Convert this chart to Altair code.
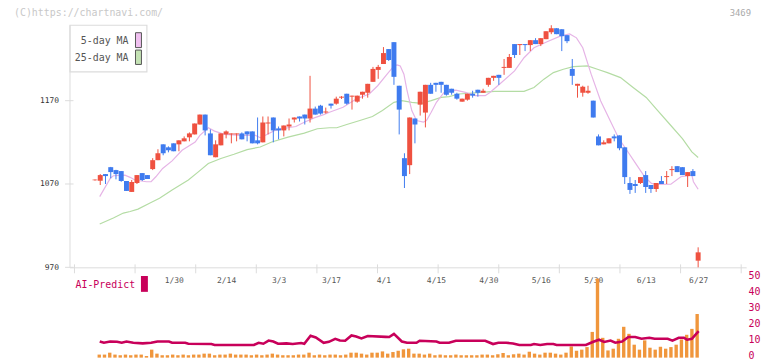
import altair as alt
import pandas as pd

# ---------------- data ----------------
opens = [1074.5, 1073.9, 1081.9, 1090.2, 1086.7, 1085.5, 1073.6, 1060.5, 1071.2, 1083.1,
         1080.7, 1087.9, 1098.6, 1117.6, 1114.0, 1118.8, 1117.6, 1121.2, 1126.0, 1129.5,
         1141.4, 1153.3, 1130.7, 1102.1, 1116.4, 1129.5, 1129.5, 1129.5, 1130.7, 1133.1,
         1133.1, 1122.4, 1120.0, 1142.6, 1149.8, 1136.7, 1134.3, 1139.0, 1147.4, 1151.0,
         1153.3, 1148.6, 1160.5, 1164.0, 1155.7, 1166.4, 1166.4, 1173.6, 1178.3, 1174.8,
         1168.8, 1177.1, 1179.5, 1192.6, 1206.9, 1214.0, 1231.9, 1240.2, 1187.9, 1101.0,
         1092.6, 1148.6, 1165.2, 1155.7, 1189.0, 1191.4, 1192.6, 1189.0, 1184.3, 1178.3,
         1168.8, 1171.2, 1178.3, 1183.1, 1179.5, 1189.0, 1197.4, 1201.0, 1209.3, 1209.3,
         1237.9, 1236.7, 1237.9, 1236.7, 1242.6, 1237.9, 1243.8, 1252.1, 1256.9, 1255.7,
         1248.6, 1208.1, 1187.9, 1179.5, 1179.5, 1170.0, 1127.1, 1117.6, 1118.8, 1127.1,
         1128.3, 1114.0, 1071.2, 1070.0, 1071.2, 1080.7, 1068.8, 1064.0, 1073.6, 1078.3,
         1086.7, 1091.4, 1090.2, 1079.5, 1085.5, 978.0]
highs = [1075.5, 1081.9, 1082.0, 1090.5, 1087.0, 1085.5, 1073.6, 1074.8, 1080.7, 1083.1,
         1080.7, 1101.0, 1111.7, 1117.6, 1115.2, 1118.8, 1122.4, 1127.1, 1131.9, 1142.6,
         1153.3, 1153.3, 1135.5, 1122.4, 1130.7, 1134.3, 1130.7, 1130.7, 1131.9, 1133.1,
         1133.1, 1149.8, 1151.0, 1151.0, 1149.8, 1139.0, 1140.2, 1148.6, 1149.8, 1151.0,
         1153.3, 1199.8, 1162.9, 1165.0, 1161.7, 1166.4, 1174.8, 1175.5, 1178.3, 1176.0,
         1176.0, 1180.7, 1190.2, 1210.5, 1212.9, 1234.3, 1231.9, 1240.2, 1187.9, 1106.9,
         1149.8, 1148.6, 1180.7, 1189.0, 1191.4, 1191.4, 1192.6, 1189.0, 1184.3, 1179.5,
         1172.4, 1178.3, 1181.9, 1183.1, 1184.3, 1197.4, 1199.8, 1201.0, 1220.0, 1226.0,
         1237.9, 1237.9, 1237.9, 1242.6, 1245.0, 1245.0, 1253.3, 1260.5, 1256.9, 1255.7,
         1248.6, 1220.0, 1190.2, 1187.9, 1187.9, 1170.0, 1129.5, 1122.4, 1124.8, 1129.5,
         1128.3, 1114.0, 1078.3, 1074.8, 1078.3, 1085.5, 1068.8, 1071.2, 1079.5, 1085.5,
         1091.4, 1091.4, 1090.2, 1084.3, 1087.9, 994.0]
lows = [1074.0, 1068.8, 1070.0, 1076.8, 1075.6, 1072.7, 1061.7, 1060.5, 1070.0, 1073.6,
        1076.0, 1086.7, 1098.6, 1104.5, 1108.0, 1109.3, 1109.3, 1121.2, 1121.2, 1129.5,
        1141.4, 1128.3, 1104.5, 1102.1, 1116.4, 1124.8, 1118.8, 1121.2, 1123.6, 1121.2,
        1118.8, 1117.6, 1120.0, 1129.5, 1120.0, 1123.6, 1127.1, 1134.3, 1143.8, 1145.0,
        1141.4, 1143.8, 1153.3, 1153.3, 1154.5, 1160.5, 1165.2, 1172.0, 1165.2, 1159.3,
        1167.6, 1172.4, 1173.6, 1192.6, 1196.2, 1214.0, 1217.6, 1189.0, 1129.5, 1065.2,
        1081.9, 1118.8, 1152.1, 1137.9, 1178.3, 1180.7, 1179.5, 1176.0, 1177.1, 1171.2,
        1168.8, 1170.0, 1173.6, 1174.8, 1179.5, 1186.7, 1193.8, 1189.0, 1201.0, 1209.3,
        1221.2, 1224.8, 1229.5, 1229.5, 1237.9, 1235.5, 1243.8, 1249.8, 1249.8, 1229.5,
        1239.0, 1189.0, 1173.6, 1174.8, 1178.3, 1149.8, 1116.4, 1117.6, 1118.8, 1121.2,
        1110.5, 1070.0, 1058.1, 1059.3, 1070.0, 1059.3, 1059.3, 1060.5, 1070.0, 1070.0,
        1079.5, 1084.3, 1080.7, 1066.4, 1079.5, 970.0]
closes = [1075.3, 1080.7, 1079.5, 1084.3, 1081.9, 1073.6, 1061.7, 1072.4, 1080.7, 1074.8,
          1076.0, 1098.6, 1106.9, 1106.9, 1110.5, 1109.3, 1122.4, 1124.8, 1130.7, 1142.6,
          1153.3, 1134.3, 1104.5, 1117.6, 1130.7, 1133.1, 1130.7, 1130.7, 1123.6, 1129.5,
          1118.8, 1118.8, 1143.8, 1143.8, 1134.3, 1134.3, 1140.2, 1141.4, 1149.8, 1148.6,
          1148.6, 1160.5, 1153.3, 1154.5, 1156.9, 1164.0, 1172.4, 1174.8, 1166.4, 1176.0,
          1176.0, 1180.7, 1190.2, 1208.1, 1210.5, 1227.1, 1218.8, 1198.6, 1159.3, 1079.5,
          1149.8, 1141.4, 1180.7, 1189.0, 1178.3, 1189.0, 1189.0, 1177.1, 1179.5, 1172.4,
          1172.4, 1178.3, 1176.0, 1179.5, 1181.9, 1197.4, 1199.8, 1197.4, 1210.5, 1222.4,
          1224.8, 1237.9, 1236.7, 1242.6, 1237.9, 1245.0, 1253.3, 1256.9, 1249.8, 1247.4,
          1241.4, 1199.8, 1190.2, 1186.7, 1181.9, 1149.8, 1116.4, 1120.0, 1124.8, 1124.8,
          1112.9, 1078.3, 1062.9, 1067.6, 1078.3, 1066.4, 1064.0, 1071.2, 1070.0, 1079.5,
          1087.9, 1084.3, 1080.7, 1084.3, 1079.5, 988.0]
volumes = [0.0, 1.9, 1.9, 3.1, 1.9, 1.5, 1.9, 1.5, 1.9, 1.9,
           1.0, 5.0, 2.5, 1.5, 1.5, 1.9, 1.5, 1.9, 1.5, 1.9,
           1.9, 2.5, 2.5, 1.5, 1.9, 1.9, 2.5, 1.9, 1.9, 1.9,
           1.5, 1.9, 1.5, 1.9, 2.5, 1.9, 1.5, 1.5, 1.5, 1.9,
           1.9, 3.1, 1.5, 1.9, 1.5, 1.9, 1.9, 1.5, 1.9, 3.1,
           3.1, 2.5, 1.9, 3.1, 3.1, 3.9, 2.5, 3.5, 4.3, 5.2,
           5.6, 2.5, 2.5, 1.9, 2.5, 1.5, 1.9, 1.5, 1.5, 1.9,
           1.5, 1.5, 1.5, 1.5, 1.9, 1.9, 1.5, 2.1, 2.9, 1.5,
           2.1, 2.5, 1.9, 3.7, 2.5, 1.9, 3.1, 3.1, 2.5, 1.9,
           3.1, 7.0, 4.3, 5.0, 6.6, 16.1, 49.5, 12.4, 4.5, 5.6,
           11.8, 19.3, 14.9, 8.1, 5.0, 10.8, 6.2, 5.0, 6.8, 5.6,
           6.6, 8.1, 11.4, 14.3, 18.0, 27.3]

ma5_idx = [0.9, 2.9, 3.5, 5.7, 6.7, 7.6, 9.8, 10.7, 11.6, 12.9, 14.7, 16.6, 19.1, 20.0,
           21.6, 22.8, 24.7, 27.8, 30.6, 31.5, 32.4, 34.3, 36.8, 38.3, 39.9, 41.8, 43.6,
           44.7, 47.3, 49.8, 52.3, 53.9, 55.7, 57.0, 57.6, 58.2, 58.9, 59.5, 60.4, 61.3,
           62.6, 63.2, 64.1, 65.1, 66.5, 68.8, 70.6, 72.5, 74.4, 75.3, 77.5, 80.0, 81.8,
           83.7, 86.2, 88.7, 90.5, 91.8, 93.0, 94.6, 96.4, 98.3, 99.9, 101.4, 103.3, 104.8,
           106.1, 107.0, 109.8, 111.7, 113.8, 114.1, 115.0]
ma5_val = [1054.9, 1076.8, 1079.9, 1080.7, 1078.0, 1074.8, 1072.7, 1072.7, 1078.7, 1088.7,
           1097.7, 1110.5, 1120.4, 1128.3, 1137.5, 1133.5, 1129.5, 1128.3, 1128.3, 1125.6,
           1128.3, 1134.3, 1137.5, 1139.0, 1144.2, 1149.4, 1153.3, 1156.1, 1162.0, 1172.0,
           1178.0, 1187.9, 1201.8, 1211.7, 1212.9, 1211.7, 1201.8, 1181.9, 1158.1, 1146.2,
           1144.2, 1146.2, 1156.1, 1168.0, 1179.5, 1182.7, 1179.9, 1176.0, 1176.0, 1179.9,
           1191.8, 1205.7, 1221.5, 1233.5, 1240.6, 1247.4, 1250.1, 1245.4, 1233.5, 1201.8,
           1170.0, 1145.0, 1124.4, 1110.5, 1092.6, 1078.7, 1070.8, 1069.6, 1069.8, 1078.7,
           1080.7, 1072.7, 1063.7]
ma25_idx = [0.9, 3.5, 5.4, 6.7, 8.2, 10.4, 12.3, 14.7, 17.8, 19.7, 21.6, 24.0, 26.5, 29.0,
            31.5, 33.7, 36.8, 39.9, 42.4, 44.7, 46.1, 48.0, 50.5, 52.9, 54.8, 57.0, 58.5,
            60.4, 62.3, 64.1, 66.0, 67.5, 69.4, 76.2, 81.8, 83.7, 85.6, 87.4, 89.3, 91.2,
            93.9, 95.8, 97.7, 100.2, 102.6, 105.1, 107.0, 109.5, 112.0, 113.8, 115.0]
ma25_val = [1022.0, 1029.2, 1035.1, 1037.0, 1039.9, 1047.0, 1053.0, 1062.9, 1074.8, 1084.6,
            1094.6, 1100.6, 1105.7, 1111.3, 1114.4, 1120.4, 1126.3, 1131.1, 1136.3, 1137.5,
            1137.5, 1141.4, 1146.2, 1151.0, 1158.1, 1168.0, 1170.0, 1168.0, 1166.8, 1170.0,
            1173.9, 1174.8, 1178.0, 1181.1, 1181.1, 1185.8, 1195.8, 1203.7, 1207.7, 1210.8,
            1211.7, 1207.7, 1203.7, 1197.7, 1185.8, 1173.9, 1160.1, 1142.3, 1124.4, 1108.5,
            1101.8]
ai_idx = [0.9, 1.7, 2.9, 4.2, 5.1, 6.0, 7.3, 9.1, 10.7, 11.9, 14.1, 14.7, 17.2, 17.8,
          22.2, 22.8, 30.3, 31.2, 32.1, 33.1, 34.0, 34.9, 36.5, 37.7, 39.3, 39.9, 41.1,
          42.1, 43.6, 44.6, 45.8, 46.7, 47.7, 48.9, 49.8, 50.8, 52.0, 55.4, 56.1, 57.0,
          58.5, 59.5, 61.3, 61.9, 65.1, 65.7, 67.5, 68.8, 74.4, 75.9, 76.9, 78.4, 79.7,
          80.9, 83.1, 83.7, 84.9, 86.2, 87.4, 88.0, 93.6, 94.9, 96.1, 97.1, 98.3, 99.2,
          100.5, 101.7, 103.0, 104.2, 105.7, 106.7, 109.2, 110.1, 111.3, 112.3, 112.9,
          113.8, 115.1]
ai_val = [10.1, 9.3, 10.1, 9.9, 9.3, 10.1, 9.3, 8.9, 9.3, 10.1, 10.1, 9.3, 9.3, 8.7,
          8.5, 7.9, 7.9, 9.3, 8.7, 10.7, 10.1, 8.7, 8.9, 8.5, 9.1, 8.7, 13.7,
          12.6, 9.3, 9.9, 11.8, 10.7, 10.6, 13.9, 13.2, 12.0, 13.5, 13.0, 12.9, 14.9,
          10.1, 9.3, 9.3, 10.6, 10.1, 9.3, 9.3, 10.6, 10.6, 8.5, 9.3, 9.3, 8.9,
          7.9, 7.9, 8.5, 7.9, 8.5, 8.5, 7.9, 7.9, 9.8, 11.2, 9.8, 10.7, 9.3,
          10.1, 12.9, 12.9, 11.8, 12.4, 11.8, 11.8, 10.6, 12.4, 12.4, 11.2,
          11.8, 16.6]

date_idx = [15, 25, 35, 45, 55, 65, 75, 85, 95, 105, 115]
date_labels = ['1/30', '2/14', '3/3', '3/17', '4/1', '4/15', '4/30', '5/16', '5/30', '6/13', '6/27']
price_ticks = [970, 1070, 1170]
vol_ticks = [0, 10, 20, 30, 40, 50]

# ---------------- styling / layout ----------------
RED, BLUE = '#ef5140', '#3f7bef'
PINK, GREEN = '#e6b4e6', '#b4dca4'
ORANGE, CRIMSON = '#f0963c', '#c8005a'
AXIS_C = '#dcdcdc'
MONO = 'DejaVu Sans Mono'

W, H = 682, 335
PX_DAY = 5.365
x_lo = -21 / PX_DAY
x_dom = [x_lo, x_lo + W / PX_DAY]
PX_PRICE = 0.84
price_top = 1070 + 160 / PX_PRICE
price_dom = [price_top - H / PX_PRICE, price_top]
PX_VOL = 1.61
vol_dom = [0, H / PX_VOL]

xs = alt.Scale(domain=x_dom, nice=False, zero=False)
ps = alt.Scale(domain=price_dom, nice=False, zero=False)
vs = alt.Scale(domain=vol_dom, nice=False, zero=False)

n = len(opens)
assert len(highs) == n and len(lows) == n and len(closes) == n and len(volumes) == n
candles = pd.DataFrame({'idx': list(range(n)), 'open': opens, 'high': highs,
                        'low': lows, 'close': closes, 'vol': volumes})
candles['dir'] = ['up' if c >= o else 'down' for o, c in zip(opens, closes)]
ma5 = pd.DataFrame({'idx': ma5_idx, 'v': ma5_val})
ma25 = pd.DataFrame({'idx': ma25_idx, 'v': ma25_val})
ai = pd.DataFrame({'idx': ai_idx, 'v': ai_val})
pticks = pd.DataFrame({'p': price_ticks})
grid_pos = [x_dom[0] + k * (x_dom[1] - x_dom[0]) / 11 for k in range(12)]
gticks = pd.DataFrame({'g': grid_pos})
one = pd.DataFrame({'a': [0]})

color = alt.Color('dir:N', scale=alt.Scale(domain=['up', 'down'], range=[RED, BLUE]), legend=None)
label_expr = '[' + ','.join("'%s'" % s for s in date_labels) + '][round((datum.value-15)/10)]'

x_axis = alt.Axis(values=date_idx, labelExpr=label_expr, orient='bottom', offset=-91,
                  domain=True, domainColor=AXIS_C, ticks=False, tickSize=0, labelPadding=9,
                  labelFont=MONO, labelFontSize=8, labelColor='#555', grid=False, title=None,
                  labelFlush=False, labelOverlap=False)
p_axis = alt.Axis(values=price_ticks, format='d', orient='left', domain=False, ticks=False,
                  labelPadding=11, labelFont=MONO, labelFontSize=8, labelColor='#333',
                  grid=False, title=None)
v_axis = alt.Axis(values=vol_ticks, format='d', orient='right', domain=False, ticks=False,
                  labelPadding=2, labelOffset=-2, labelFont=MONO, labelFontSize=10,
                  labelColor=CRIMSON, grid=False, title=None, labelFlush=False, labelOverlap=False)

line5 = alt.Chart(ma5).mark_line(color=PINK, strokeWidth=1.2).encode(
    x=alt.X('idx:Q', scale=xs, axis=None), y=alt.Y('v:Q', scale=ps, axis=None))
line25 = alt.Chart(ma25).mark_line(color=GREEN, strokeWidth=1.2).encode(
    x=alt.X('idx:Q', scale=xs, axis=None), y=alt.Y('v:Q', scale=ps, axis=None))
wicks = alt.Chart(candles).mark_rule(strokeWidth=1).encode(
    x=alt.X('idx:Q', scale=xs, axis=x_axis), y=alt.Y('low:Q', scale=ps, axis=p_axis),
    y2='high:Q', color=color)
bodies = alt.Chart(candles).mark_bar(size=5).encode(
    x=alt.X('idx:Q', scale=xs, axis=None), y=alt.Y('open:Q', scale=ps, axis=None),
    y2='close:Q', color=color)
left_ticks = alt.Chart(pticks).mark_rule(color=AXIS_C).encode(
    y=alt.Y('p:Q', scale=ps, axis=None), x=alt.value(-4.5), x2=alt.value(4))

vbars = alt.Chart(candles).mark_bar(size=3.4, color=ORANGE, xOffset=-1).encode(
    x=alt.X('idx:Q', scale=xs, axis=None), y=alt.Y('vol:Q', scale=vs, axis=v_axis))
ailine = alt.Chart(ai).mark_line(color=CRIMSON, strokeWidth=2.6).encode(
    x=alt.X('idx:Q', scale=xs, axis=None), y=alt.Y('v:Q', scale=vs, axis=None))

# decorations
left_line = alt.Chart(one).mark_rule(color=AXIS_C).encode(
    x=alt.value(0.5), y=alt.value(0), y2=alt.value(244))
grid_ticks = alt.Chart(gticks).mark_rule(color=AXIS_C).encode(
    x=alt.X('g:Q', scale=xs, axis=None), y=alt.value(241), y2=alt.value(250))
legend_box = alt.Chart(one).mark_rect(fill='white', stroke=AXIS_C, strokeWidth=1.2).encode(
    x=alt.value(0.5), x2=alt.value(78), y=alt.value(0), y2=alt.value(47))
sw5 = alt.Chart(one).mark_rect(fill='#f0c0f0', stroke='#555', strokeWidth=1).encode(
    x=alt.value(66.5), x2=alt.value(72.5), y=alt.value(7.5), y2=alt.value(22.5))
sw25 = alt.Chart(one).mark_rect(fill='#c4e2b4', stroke='#555', strokeWidth=1).encode(
    x=alt.value(66.5), x2=alt.value(72.5), y=alt.value(25), y2=alt.value(39.5))
t5 = alt.Chart(one).mark_text(text='5-day MA', align='right', baseline='middle', font=MONO,
                              fontSize=10, color='#555').encode(x=alt.value(59.5), y=alt.value(16))
t25 = alt.Chart(one).mark_text(text='25-day MA', align='right', baseline='middle', font=MONO,
                               fontSize=10, color='#555').encode(x=alt.value(59.5), y=alt.value(33.3))
ai_sw = alt.Chart(one).mark_rect(fill=CRIMSON).encode(
    x=alt.value(72), x2=alt.value(79), y=alt.value(252.7), y2=alt.value(268.7))
ai_t = alt.Chart(one).mark_text(text='AI-Predict', align='left', baseline='middle', font=MONO,
                                fontSize=10, color=CRIMSON).encode(x=alt.value(6), y=alt.value(262))
wm = alt.Chart(one).mark_text(text='(C)https://chartnavi.com/', align='left', baseline='middle',
                              font=MONO, fontSize=10, color='#c8c8c8').encode(x=alt.value(-56), y=alt.value(-12))
code = alt.Chart(one).mark_text(text='3469', align='right', baseline='middle', font=MONO,
                                fontSize=9, color='#aaaaaa').encode(x=alt.value(687), y=alt.value(-12))

chart = alt.layer(
    vbars, ailine, legend_box, left_line, grid_ticks, left_ticks,
    line25, line5, wicks, bodies,
    sw5, sw25, t5, t25, ai_sw, ai_t, wm, code
).resolve_scale(y='independent').resolve_axis(x='independent', y='independent').properties(
    width=W, height=H,
    autosize=alt.AutoSizeParams(type='none'),
    padding={'left': 62, 'top': 16, 'right': 18, 'bottom': 2},
).configure_view(stroke=None)

chart.save('out.html', embed_options={'renderer': 'svg', 'actions': False})
